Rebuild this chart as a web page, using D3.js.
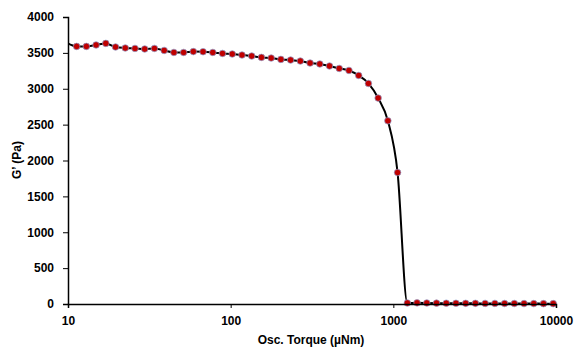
<!DOCTYPE html>
<html>
<head>
<meta charset="utf-8">
<script src="https://cdn.jsdelivr.net/npm/d3@7"></script>
<style>
  body { margin: 0; background: #fff; }
  text { font-family: "Liberation Sans", Arial, sans-serif; font-weight: bold; fill: #000; }
</style>
</head>
<body>
<div id="chart"></div>
<script>
// oscillation torque (µNm)
const torque = [9.85, 11.3, 12.97, 14.88, 17.08, 19.6, 22.49, 25.81, 29.62, 33.99, 39.01,
  44.77, 51.38, 58.96, 67.66, 77.65, 89.11, 102.3, 117.4, 134.7, 154.6,
  177.4, 203.6, 233.6, 268.1, 307.7, 353.1, 405.2, 465.0, 533.7, 612.5,
  702.9, 806.6, 925.7, 1062, 1219, 1399, 1606, 1843, 2115, 2427,
  2785, 3196, 3668, 4210, 4831, 5544, 6363, 7302, 8380, 9617];
// storage modulus G' (Pa)
const gPrime = [3640, 3590, 3590, 3610, 3632, 3582, 3568, 3562, 3554, 3562, 3534,
  3506, 3506, 3518, 3516, 3506, 3492, 3484, 3470, 3456, 3437,
  3428, 3409, 3400, 3386, 3358, 3345, 3317, 3283, 3255, 3185,
  3074, 2870, 2553, 1832, 14, 16, 14, 12, 11, 10,
  9, 9, 8, 8, 7, 7, 6, 6, 5, 5];

const xTicks = [10, 100, 1000, 10000];
const yTicks = [0, 500, 1000, 1500, 2000, 2500, 3000, 3500, 4000];

const margin = {top: 17, right: 20, bottom: 43, left: 68},
  width = 576 - margin.left - margin.right,
  height = 347 - margin.top - margin.bottom;

const svg = d3.select("#chart")
  .append("svg")
  .attr("width", 576)
  .attr("height", 347)
  .append("g")
  .attr("transform", `translate(${margin.left},${margin.top})`);

const x = d3.scaleLog().domain([10, 10000]).range([0, width]);
const y = d3.scaleLinear().domain([0, 4000]).range([height, 0]);

const data = torque.map((t, i) => ({t: t, g: gPrime[i]}));

svg.append("clipPath").attr("id", "clip")
  .append("rect").attr("x", 0).attr("y", -10).attr("width", width + 10).attr("height", height + 20);

// smoothed line
svg.append("path")
  .datum(data)
  .attr("clip-path", "url(#clip)")
  .attr("fill", "none")
  .attr("stroke", "#000")
  .attr("stroke-width", 2)
  .attr("d", d3.line().x(d => x(d.t)).y(d => y(d.g)).curve(d3.curveMonotoneX));

// markers
svg.selectAll("circle")
  .data(data.filter(d => d.t >= 10))
  .join("circle")
  .attr("cx", d => x(d.t))
  .attr("cy", d => y(d.g))
  .attr("r", 3.3)
  .attr("fill", "#c00000")
  .attr("stroke", "#8fa0d0")
  .attr("stroke-width", 0.7);

// X axis
const xAxis = svg.append("g")
  .attr("transform", `translate(0,${height})`)
  .call(d3.axisBottom(x).tickValues(xTicks).tickFormat(d3.format("d")).tickSize(4).tickPadding(8));
xAxis.select(".domain").attr("stroke", "#000").attr("stroke-width", 1.5);
xAxis.selectAll("text").attr("font-size", 12);

// Y axis
const yAxis = svg.append("g")
  .call(d3.axisLeft(y).tickValues(yTicks).tickFormat(d3.format("d")).tickSize(5).tickPadding(9));
yAxis.select(".domain").attr("stroke", "#000").attr("stroke-width", 1.5);
yAxis.selectAll("text").attr("font-size", 12);

// axis titles
svg.append("text")
  .attr("x", 311 - margin.left)
  .attr("y", 344 - margin.top)
  .attr("text-anchor", "middle")
  .attr("font-size", 12)
  .text("Osc. Torque (µNm)");

svg.append("text")
  .attr("transform", `translate(${21 - margin.left},${160 - margin.top}) rotate(-90)`)
  .attr("text-anchor", "middle")
  .attr("font-size", 12)
  .text("G’ (Pa)");
</script>
</body>
</html>
